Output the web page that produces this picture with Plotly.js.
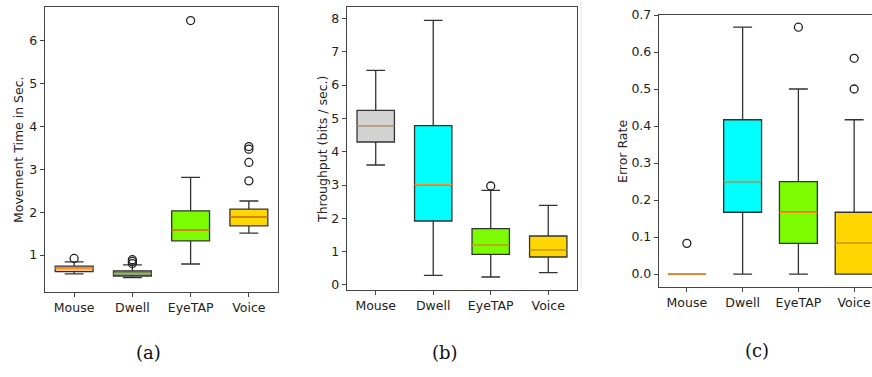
<!DOCTYPE html>
<html>
<head>
<meta charset="utf-8">
<script src="https://cdn.plot.ly/plotly-3.0.1.min.js"></script>
<style>html,body{margin:0;padding:0;background:#fff;}#chart{width:872px;height:377px;}</style>
</head>
<body>
<div id="chart"></div>
<script>
// ---- data ----
const categories = ['Mouse', 'Dwell', 'EyeTAP', 'Voice'];

// (a) Movement time (sec.)
const mtQ1 = [0.61, 0.51, 1.33, 1.68];
const mtMedian = [0.69, 0.57, 1.58, 1.89];
const mtQ3 = [0.74, 0.63, 2.03, 2.07];
const mtLow = [0.56, 0.47, 0.79, 1.51];
const mtHigh = [0.84, 0.77, 2.81, 2.26];
const mtOutliers = [[0.92], [0.80, 0.85, 0.89], [6.47], [2.73, 3.16, 3.47, 3.53]];

// (b) Throughput (bits / sec.)
const tpQ1 = [4.29, 1.92, 0.92, 0.84];
const tpMedian = [4.78, 3.01, 1.19, 1.06];
const tpQ3 = [5.24, 4.78, 1.69, 1.47];
const tpLow = [3.60, 0.29, 0.24, 0.37];
const tpHigh = [6.44, 7.94, 2.84, 2.39];
const tpOutliers = [[], [], [2.97], []];

// (c) Error rate
const erQ1 = [0, 0.167, 0.083, 0];
const erMedian = [0, 0.25, 0.167, 0.083];
const erQ3 = [0, 0.417, 0.25, 0.167];
const erLow = [0, 0, 0, 0];
const erHigh = [0, 0.667, 0.5, 0.417];
const erOutliers = [[0.083], [], [0.667], [0.5, 0.583]];

// ---- styles ----
const colorsA = ['#f4c09e', '#5aa886', '#7CFC00', '#FFD700'];
const colorsBC = ['#D3D3D3', '#00FFFF', '#7CFC00', '#FFD700'];
const edge = '#333333';
const medianColor = '#ff8c1a';
const font = 'DejaVu Sans, sans-serif';

const panels = [
  {q1: mtQ1, med: mtMedian, q3: mtQ3, lo: mtLow, hi: mtHigh, out: mtOutliers, colors: colorsA, xa: 'x', ya: 'y', w: 0.65},
  {q1: tpQ1, med: tpMedian, q3: tpQ3, lo: tpLow, hi: tpHigh, out: tpOutliers, colors: colorsBC, xa: 'x2', ya: 'y2', w: 0.65},
  {q1: erQ1, med: erMedian, q3: erQ3, lo: erLow, hi: erHigh, out: erOutliers, colors: colorsBC, xa: 'x3', ya: 'y3', w: 0.68}
];

const traces = [];
panels.forEach(p => {
  categories.forEach((c, i) => {
    const pos = i + 1;
    traces.push({
      type: 'box', x: [pos], q1: [p.q1[i]], median: [p.med[i]], q3: [p.q3[i]],
      lowerfence: [p.lo[i]], upperfence: [p.hi[i]],
      width: p.w, whiskerwidth: 0.5, boxpoints: false,
      fillcolor: p.colors[i], line: {color: edge, width: 1.3},
      xaxis: p.xa, yaxis: p.ya, showlegend: false, hoverinfo: 'skip'
    });
    traces.push({
      type: 'scatter', mode: 'lines',
      x: [pos - p.w / 2, pos + p.w / 2], y: [p.med[i], p.med[i]],
      line: {color: medianColor, width: 1.4},
      xaxis: p.xa, yaxis: p.ya, showlegend: false, hoverinfo: 'skip'
    });
    if (p.out[i].length) {
      traces.push({
        type: 'scatter', mode: 'markers',
        x: p.out[i].map(() => pos), y: p.out[i],
        marker: {symbol: 'circle-open', size: 8, color: '#222', line: {width: 1.3}},
        xaxis: p.xa, yaxis: p.ya, showlegend: false, hoverinfo: 'skip'
      });
    }
  });
});

const tickFont = {family: font, size: 12.5, color: '#222'};
function xAxis(domain, range, mirror) {
  return {
    domain: domain, range: range, tickmode: 'array', tickvals: [1, 2, 3, 4], ticktext: categories,
    showline: true, mirror: mirror, linecolor: '#444', linewidth: 1.2,
    ticks: 'outside', ticklen: 4, tickcolor: '#444', tickfont: tickFont,
    showgrid: false, zeroline: false, fixedrange: true
  };
}
function yAxis(domain, range, anchor, dtick, fmt, mirror) {
  return {
    domain: domain, range: range, anchor: anchor, dtick: dtick, tick0: 0, tickformat: fmt,
    showline: true, mirror: mirror, linecolor: '#444', linewidth: 1.2,
    ticks: 'outside', ticklen: 4, tickcolor: '#444', tickfont: tickFont,
    showgrid: false, zeroline: false, fixedrange: true
  };
}

function yTitle(text, x, y) {
  return {text: text, xref: 'paper', yref: 'paper', x: x / 872, y: 1 - y / 377,
    xanchor: 'center', yanchor: 'middle', textangle: -90, showarrow: false,
    font: {family: font, size: 12.5, color: '#222'}};
}
function caption(text, x, y) {
  return {text: text, xref: 'paper', yref: 'paper', x: x / 872, y: 1 - y / 377,
    xanchor: 'center', yanchor: 'middle', showarrow: false,
    font: {family: 'DejaVu Serif, serif', size: 18, color: '#111'}};
}

const layout = {
  width: 872, height: 377,
  margin: {l: 0, r: 0, t: 0, b: 0},
  paper_bgcolor: '#fff', plot_bgcolor: '#fff',
  boxmode: 'overlay', showlegend: false,
  xaxis: Object.assign(xAxis([0.0516, 0.3188], [0.5, 4.5], true), {anchor: 'y'}),
  yaxis: yAxis([0.2255, 0.9814], [0.137, 6.786], 'x', 1, 'd', true),
  xaxis2: Object.assign(xAxis([0.3979, 0.6617], [0.5, 4.5], true), {anchor: 'y2'}),
  yaxis2: yAxis([0.2308, 0.9814], [-0.15, 8.34], 'x2', 1, 'd', true),
  xaxis3: Object.assign(xAxis([0.7557, 1.0], [0.5, 4.32], true), {anchor: 'y3'}),
  yaxis3: yAxis([0.2387, 0.9602], [-0.035, 0.7], 'x3', 0.1, '.1f', false),
  shapes: [
    {type: 'line', xref: 'paper', yref: 'paper', x0: 0.6663, x1: 0.6663, y0: 0.24, y1: 1, line: {color: '#e6e6e6', width: 1}}
  ],
  annotations: [
    yTitle('Movement Time in Sec.', 18, 150),
    yTitle('Throughput (bits / sec.)', 322, 150),
    yTitle('Error Rate', 622, 152),
    caption('(a)', 148, 352),
    caption('(b)', 445, 352),
    caption('(c)', 757, 350)
  ]
};

Plotly.newPlot('chart', traces, layout, {staticPlot: true, displayModeBar: false});
</script>
</body>
</html>
